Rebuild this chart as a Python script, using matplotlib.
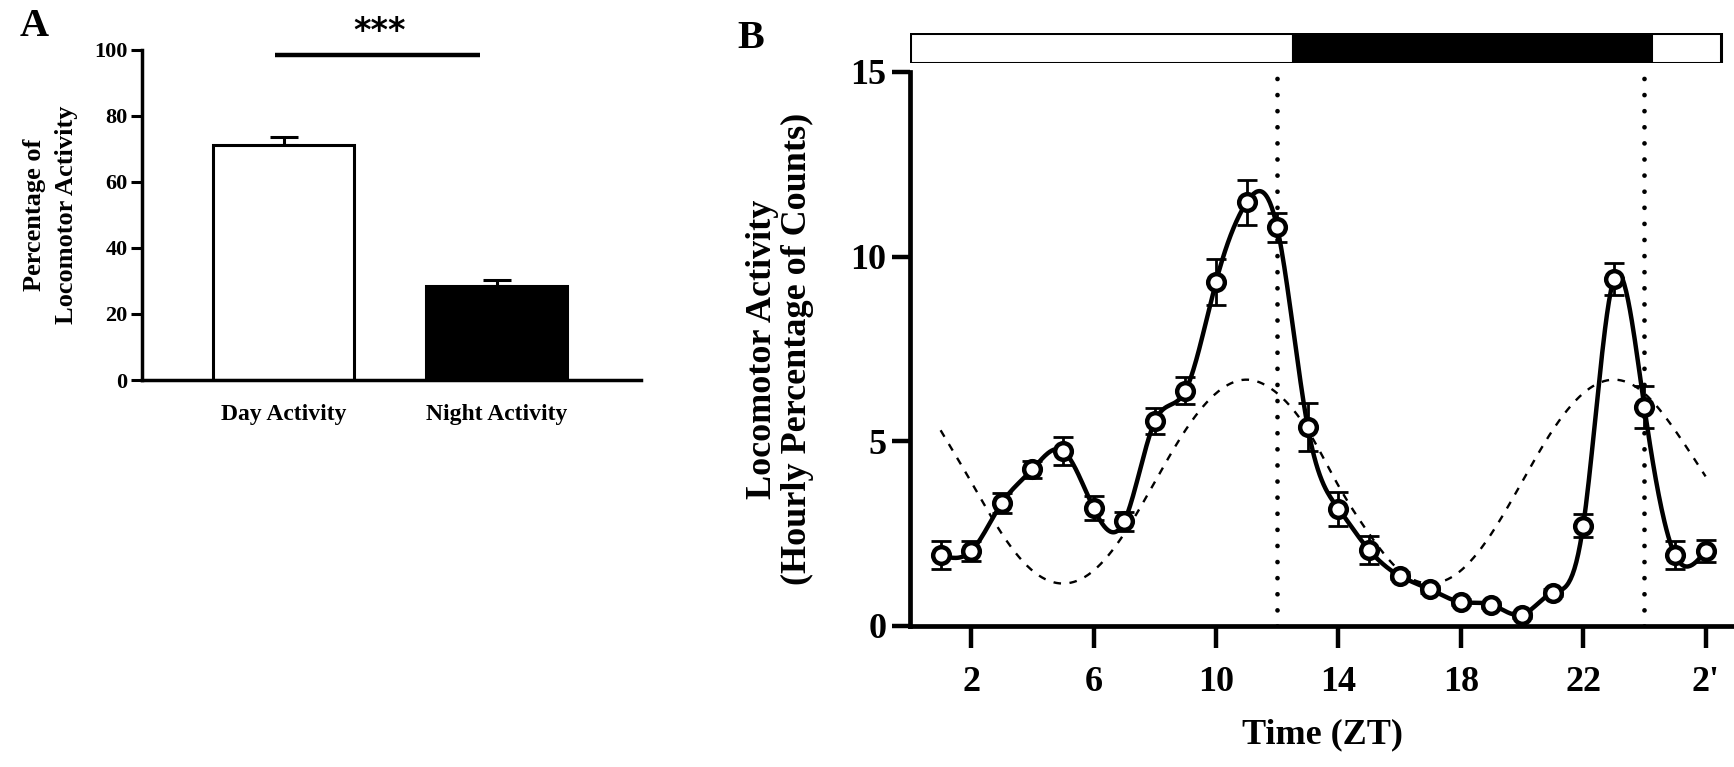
import numpy as np
import matplotlib
matplotlib.use("Agg")
import matplotlib.pyplot as plt

# ---------------- data ----------------
bar_labels = ["Day Activity", "Night Activity"]
bar_values = [71.3, 28.4]
bar_errors = [2.2, 2.0]
bar_colors = ["white", "black"]

hours = [1, 2, 3, 4, 5, 6, 7, 8, 9, 10, 11, 12, 13,
         14, 15, 16, 17, 18, 19, 20, 21, 22, 23, 24, 25, 26]
activity = [1.92, 2.03, 3.33, 4.24, 4.74, 3.19, 2.83, 5.54, 6.37, 9.32, 11.47, 10.79, 5.38,
            3.18, 2.06, 1.36, 0.99, 0.65, 0.58, 0.31, 0.90, 2.72, 9.39, 5.92, 1.92, 2.03]
activity_sem = [0.38, 0.28, 0.27, 0.22, 0.38, 0.33, 0.27, 0.35, 0.36, 0.63, 0.60, 0.40, 0.65,
                0.46, 0.38, 0.10, 0.10, 0.08, 0.08, 0.08, 0.10, 0.30, 0.44, 0.57, 0.38, 0.30]
# dashed rhythm fit at each hour
fit_values = [5.3, 3.9, 2.5, 1.5, 1.15, 1.5, 2.5, 3.9, 5.3, 6.3, 6.67, 6.3, 5.3,
              3.8, 2.5, 1.5, 1.15, 1.5, 2.5, 3.9, 5.3, 6.3, 6.67, 6.3, 5.3, 4.05]
lights_off = [12, 24]
ld_starts = [0, 12.5, 24.2]
ld_ends = [12.5, 24.2, 26.5]
ld_colors = ["white", "black", "white"]
xtick_pos = [2, 6, 10, 14, 18, 22, 26]
xtick_labels = ["2", "6", "10", "14", "18", "22", "2'"]


def natural_spline(x, y, xs):
    x = np.asarray(x, float); y = np.asarray(y, float)
    n = len(x)
    h = np.diff(x)
    A = np.zeros((n, n)); b = np.zeros(n)
    A[0, 0] = 1; A[-1, -1] = 1
    for i in range(1, n - 1):
        A[i, i - 1] = h[i - 1]
        A[i, i] = 2 * (h[i - 1] + h[i])
        A[i, i + 1] = h[i]
        b[i] = 6 * ((y[i + 1] - y[i]) / h[i] - (y[i] - y[i - 1]) / h[i - 1])
    M = np.linalg.solve(A, b)
    idx = np.clip(np.searchsorted(x, xs) - 1, 0, n - 2)
    x0 = x[idx]; x1 = x[idx + 1]; hh = x1 - x0
    t0 = x1 - xs; t1 = xs - x0
    return (M[idx] * t0 ** 3 / (6 * hh) + M[idx + 1] * t1 ** 3 / (6 * hh)
            + (y[idx] / hh - M[idx] * hh / 6) * t0 + (y[idx + 1] / hh - M[idx + 1] * hh / 6) * t1)


plt.rcParams['font.family'] = ['Liberation Serif', 'DejaVu Serif']
plt.rcParams['font.weight'] = 'bold'
plt.rcParams['axes.labelweight'] = 'bold'

W, H = 1734, 767
fig = plt.figure(figsize=(W / 100, H / 100), dpi=100)

# ---------------- Panel A ----------------
axA = fig.add_axes([141.5 / W, 1 - 380 / H, 499.5 / W, 330.2 / H])
xa = np.arange(len(bar_values))
axA.bar(xa, bar_values, width=0.662, color=bar_colors, edgecolor="black", linewidth=2.2, zorder=2)
axA.errorbar(xa, bar_values, yerr=[[0, 0], bar_errors], fmt="none", ecolor="black",
             elinewidth=2.2, capsize=10, capthick=2.2, zorder=1)
axA.set_xlim(-0.667, 1.678)
axA.set_ylim(0, 100)
axA.set_yticks([0, 20, 40, 60, 80, 100])
axA.set_xticks(xa)
axA.set_xticklabels(bar_labels, fontsize=17, fontweight="bold")
axA.tick_params(axis="x", length=0, pad=17)
axA.tick_params(axis="y", length=8, width=2.2, labelsize=16, pad=2)
for s in ["top", "right"]:
    axA.spines[s].set_visible(False)
for s in ["left", "bottom"]:
    axA.spines[s].set_linewidth(2.5)
axA.set_ylabel("Percentage of\nLocomotor Activity", fontsize=19, fontweight="bold", labelpad=12,
               linespacing=1.45)
axA.plot([-0.04, 0.92], [98.4, 98.4], color="black", lw=3.2, clip_on=False, solid_capstyle="butt")
axA.text(0.45, 100.5, "***", ha="center", va="bottom", fontsize=24, fontweight="bold",
         family=["DejaVu Sans"])
fig.text(20 / W, 1 - 8 / H, "A", fontsize=29, fontweight="bold", ha="left", va="top")

# ---------------- Panel B ----------------
axB = fig.add_axes([910 / W, 1 - 626 / H, (W - 910) / W, (626 - 72) / H])
xs = np.linspace(hours[0], hours[-1], 800)
axB.plot(xs, natural_spline(hours, activity, xs), color="black", lw=3.2, zorder=3)
axB.plot(xs, natural_spline(hours, fit_values, xs), color="black", lw=1.7,
         linestyle=(0, (3.2, 3.6)), zorder=2)
axB.errorbar(hours, activity, yerr=activity_sem, fmt="none", ecolor="black",
             elinewidth=2.0, capsize=7.5, capthick=2.0, zorder=4)
axB.plot(hours, activity, linestyle="none", marker="o", markersize=12, markerfacecolor="white",
         markeredgecolor="black", markeredgewidth=3.2, zorder=5)
for xv in lights_off:
    axB.plot([xv, xv], [0, 15], color="black", lw=3.4, linestyle=(0, (0.01, 3.4)),
             dash_capstyle="round", zorder=1)
axB.set_xlim(0, (W - 910) / 30.6)
axB.set_ylim(0, 15)
axB.set_yticks([0, 5, 10, 15])
axB.set_xticks(xtick_pos)
axB.set_xticklabels(xtick_labels)
axB.tick_params(axis="x", length=16, width=3.2, labelsize=26, pad=13)
axB.tick_params(axis="y", length=13, width=3.2, labelsize=26, pad=4)
for s in ["top", "right"]:
    axB.spines[s].set_visible(False)
for s in ["left", "bottom"]:
    axB.spines[s].set_linewidth(3.4)
axB.set_xlabel("Time (ZT)", fontsize=26, fontweight="bold", labelpad=14)
axB.set_ylabel("Locomotor Activity\n(Hourly Percentage of Counts)", fontsize=26,
               fontweight="bold", labelpad=26, linespacing=1.1)
fig.text(737 / W, 1 - 20 / H, "B", fontsize=29, fontweight="bold", ha="left", va="top")

# light/dark bar
axLD = fig.add_axes([910 / W, 1 - 63 / H, (W - 910) / W, 30 / H])
axLD.barh([0] * len(ld_starts), [e - s for s, e in zip(ld_starts, ld_ends)], left=ld_starts,
          height=1.0, color=ld_colors, edgecolor="black", linewidth=2.2)
axLD.set_xlim(axB.get_xlim())
axLD.set_ylim(-0.5, 0.5)
axLD.axis("off")

fig.savefig("out.png", dpi=100)
